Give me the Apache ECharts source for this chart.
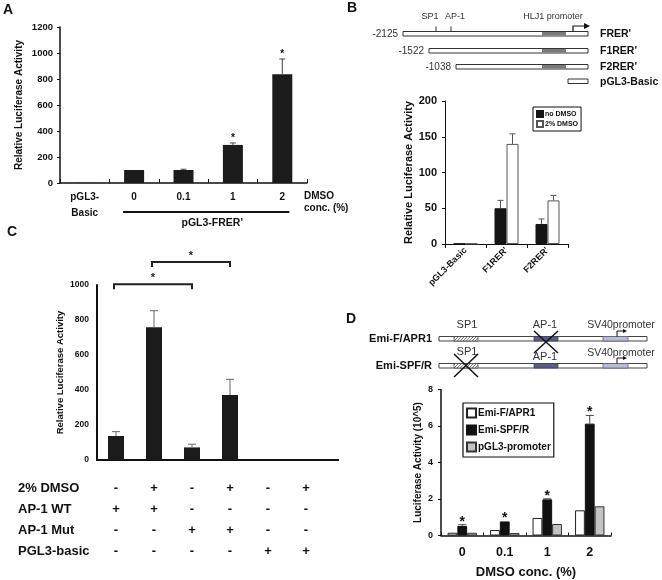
<!DOCTYPE html>
<html><head><meta charset="utf-8">
<script src="https://cdn.jsdelivr.net/npm/echarts@6/dist/echarts.min.js"></script>
<style>html,body{margin:0;padding:0;background:#fff}#c{width:662px;height:580px}</style>
</head><body><div id="c"></div>
<script>
// ---------- Panel A ----------
const aCategories = ['pGL3-\nBasic', '0', '0.1', '1', '2'];
const aValues = [1, 100, 100, 293, 836];
const aErrors = [0, 0, 6, 15, 118];
const aStars = [0, 0, 0, 1, 1];
const aYTicks = {min: 0, max: 1200, interval: 200};

// ---------- Panel B ----------
const bCategories = ['pGL3-Basic', "F1RER'", "F2RER'"];
const bNoDmso = [0.6, 50, 28];
const bNoDmsoErr = [0, 11, 7];
const bDmso = [0.6, 140, 61];
const bDmsoErr = [0, 14, 7];
const bConstructNames = ["FRER'", "F1RER'", "F2RER'", 'pGL3-Basic'];
const bConstructStarts = ['-2125', '-1522', '-1038', ''];

// ---------- Panel C ----------
const cValues = [137, 758, 72, 371, 1, 1];
const cErrors = [25, 95, 18, 90, 0, 0];
const cRowLabels = ['2% DMSO', 'AP-1 WT', 'AP-1 Mut', 'PGL3-basic'];
const cDmso = ['-', '+', '-', '+', '-', '+'];
const cWT = ['+', '+', '-', '-', '-', '-'];
const cMut = ['-', '-', '+', '+', '-', '-'];
const cBasic = ['-', '-', '-', '-', '+', '+'];
const cBracketFrom = [0, 1];
const cBracketTo = [2, 3];
const cBracketLevel = [1005, 1131];

// ---------- Panel D ----------
const dCategories = ['0', '0.1', '1', '2'];
const dEmiF = [0.15, 0.3, 0.96, 1.38];
const dEmiSPF = [0.52, 0.77, 1.98, 6.13];
const dEmiSPFErr = [0.07, 0, 0.03, 0.45];
const dPromoter = [0.15, 0.14, 0.63, 1.6];
const dStars = [1, 1, 1, 1];
const dRowNames = ['Emi-F/APR1', 'Emi-SPF/R'];

const FONT = "'Liberation Sans', Arial, Helvetica, sans-serif";
const INK = '#111';

const chart = echarts.init(document.getElementById('c'), null, {renderer: 'canvas'});

function errSeries(idx, vals, errs, stars, opt) {
  return {
    type: 'custom', xAxisIndex: idx, yAxisIndex: idx, z: 5, silent: true, clip: false,
    data: vals.map((v, i) => [i, v, errs[i], stars ? stars[i] : 0]),
    encode: {x: 0, y: 1},
    renderItem: function (params, api) {
      const i = api.value(0), v = api.value(1), e = api.value(2), s = api.value(3);
      const p0 = api.coord([i, v]);
      const p1 = api.coord([i, v + e]);
      const x = p0[0] + opt.offset;
      const ch = [];
      if (e > 0) {
        ch.push({type: 'line', shape: {x1: x, y1: p0[1], x2: x, y2: p1[1]}, style: {stroke: opt.color, lineWidth: 1}});
        ch.push({type: 'line', shape: {x1: x - opt.cap, y1: p1[1], x2: x + opt.cap, y2: p1[1]}, style: {stroke: opt.color, lineWidth: 1}});
      }
      if (s) {
        ch.push({type: 'text', x: x, y: p1[1] - opt.starGap,
          style: {text: '*', fill: INK, font: opt.starFont, align: 'center', verticalAlign: 'middle'}});
      }
      return {type: 'group', children: ch};
    }
  };
}

const plain = (v) => String(v);
const axisLbl = (size, extra) => Object.assign({fontFamily: FONT, fontWeight: 'bold', fontSize: size, color: INK}, extra || {});

const option = {
  animation: false,
  backgroundColor: '#fff',
  textStyle: {fontFamily: FONT},
  grid: [
    {left: 60, top: 27, width: 247, height: 156},
    {left: 445, top: 101, width: 123, height: 143},
    {left: 97, top: 285, width: 228, height: 175},
    {left: 441, top: 389.5, width: 170, height: 146}
  ],
  xAxis: [
    {gridIndex: 0, type: 'category', data: aCategories,
      axisLine: {lineStyle: {color: INK, width: 1.5}},
      axisTick: {show: true, inside: true, length: 4, lineStyle: {color: INK}},
      axisLabel: axisLbl(10, {margin: 6, lineHeight: 16, interval: 0})},
    {gridIndex: 1, type: 'category', data: bCategories,
      axisLine: {lineStyle: {color: INK, width: 1}},
      axisTick: {show: true, length: 4, lineStyle: {color: INK}},
      axisLabel: axisLbl(9, {rotate: 45, margin: 5, interval: 0})},
    {gridIndex: 2, type: 'category',
      data: cDmso.map((d, i) => [d, cWT[i], cMut[i], cBasic[i]].join('\n')),
      axisLine: {lineStyle: {color: INK, width: 2}},
      axisTick: {show: false},
      axisLabel: axisLbl(13, {margin: 18, lineHeight: 21, interval: 0})},
    {gridIndex: 3, type: 'category', data: dCategories,
      axisLine: {lineStyle: {color: INK, width: 1.5}},
      axisTick: {show: true, inside: true, length: 3, lineStyle: {color: INK}},
      axisLabel: axisLbl(12.5, {margin: 11, interval: 0}),
      name: 'DMSO conc. (%)', nameLocation: 'middle', nameGap: 30,
      nameTextStyle: {fontFamily: FONT, fontWeight: 'bold', fontSize: 13, color: INK}}
  ],
  yAxis: [
    {gridIndex: 0, type: 'value', min: aYTicks.min, max: aYTicks.max, interval: aYTicks.interval,
      splitLine: {show: false},
      axisLine: {show: true, lineStyle: {color: INK, width: 1.5}},
      axisTick: {show: true, length: 3, lineStyle: {color: INK}},
      axisLabel: axisLbl(9.5, {margin: 7, formatter: plain}),
      name: 'Relative Luciferase Activity', nameLocation: 'middle', nameGap: 36,
      nameTextStyle: {fontFamily: FONT, fontWeight: 'bold', fontSize: 10, color: INK}},
    {gridIndex: 1, type: 'value', min: 0, max: 200, interval: 50,
      splitLine: {show: false},
      axisLine: {show: true, lineStyle: {color: INK, width: 1}},
      axisTick: {show: true, length: 3, lineStyle: {color: INK}},
      axisLabel: axisLbl(11, {margin: 8, formatter: plain}),
      name: 'Relative Luciferase Activity', nameLocation: 'middle', nameGap: 31,
      nameTextStyle: {fontFamily: FONT, fontWeight: 'bold', fontSize: 11, color: INK}},
    {gridIndex: 2, type: 'value', min: 0, max: 1000, interval: 200,
      splitLine: {show: false},
      axisLine: {show: true, lineStyle: {color: INK, width: 2}},
      axisTick: {show: false},
      axisLabel: axisLbl(8.5, {margin: 8, formatter: plain}),
      name: 'Relative Luciferase Activity', nameLocation: 'middle', nameGap: 32,
      nameTextStyle: {fontFamily: FONT, fontWeight: 'bold', fontSize: 9.5, color: INK}},
    {gridIndex: 3, type: 'value', min: 0, max: 8, interval: 2,
      splitLine: {show: false},
      axisLine: {show: true, lineStyle: {color: INK, width: 1.5}},
      axisTick: {show: true, length: 3, lineStyle: {color: INK}},
      axisLabel: axisLbl(9, {margin: 8, formatter: plain}),
      name: 'Luciferase Activity (10^5)', nameLocation: 'middle', nameGap: 18,
      nameTextStyle: {fontFamily: FONT, fontWeight: 'bold', fontSize: 10, color: INK}}
  ],
  legend: [
    {data: ['no DMSO', '2% DMSO'], left: 533, top: 107, orient: 'vertical', icon: 'rect',
      itemWidth: 6, itemHeight: 6, itemGap: 2, padding: [3, 3, 3, 3],
      borderColor: INK, borderWidth: 1, selectedMode: false,
      textStyle: {fontFamily: FONT, fontSize: 7, fontWeight: 'bold', color: INK, padding: [0, 0, 0, -3]}},
    {data: ['Emi-F/APR1', 'Emi-SPF/R', 'pGL3-promoter'], left: 463, top: 403, orient: 'vertical', icon: 'rect',
      itemWidth: 9, itemHeight: 9, itemGap: 5, padding: [4, 3, 4, 3],
      borderColor: INK, borderWidth: 1.2, selectedMode: false,
      textStyle: {fontFamily: FONT, fontSize: 10, fontWeight: 'bold', color: INK, lineHeight: 12, padding: [0, 0, 0, -3]}}
  ],
  series: [
    {name: 'A', type: 'bar', xAxisIndex: 0, yAxisIndex: 0, data: aValues, barWidth: 20,
      itemStyle: {color: '#1b1b1b'}},
    errSeries(0, aValues, aErrors, aStars, {offset: 0, cap: 3, color: '#444', starGap: 5, starFont: 'bold 10px ' + FONT}),

    {name: 'no DMSO', type: 'bar', xAxisIndex: 1, yAxisIndex: 1, data: bNoDmso, barWidth: 12, barGap: '0%',
      itemStyle: {color: '#151515', borderColor: '#151515', borderWidth: 1}},
    {name: '2% DMSO', type: 'bar', xAxisIndex: 1, yAxisIndex: 1, data: bDmso, barWidth: 12, barGap: '0%',
      itemStyle: {color: '#fff', borderColor: '#555', borderWidth: 1}},
    errSeries(1, bNoDmso, bNoDmsoErr, null, {offset: -6, cap: 3, color: '#555', starGap: 5, starFont: 'bold 10px ' + FONT}),
    errSeries(1, bDmso, bDmsoErr, null, {offset: 6, cap: 3, color: '#555', starGap: 5, starFont: 'bold 10px ' + FONT}),

    {name: 'C', type: 'bar', xAxisIndex: 2, yAxisIndex: 2, data: cValues, barWidth: 16,
      itemStyle: {color: '#1b1b1b'}},
    errSeries(2, cValues, cErrors, null, {offset: 0, cap: 4, color: '#666', starGap: 5, starFont: 'bold 10px ' + FONT}),
    {type: 'custom', xAxisIndex: 2, yAxisIndex: 2, z: 6, silent: true, clip: false,
      data: cBracketFrom.map((f, i) => [f, cBracketTo[i], cBracketLevel[i]]),
      encode: {x: [0, 1], y: 2},
      renderItem: function (params, api) {
        const a = api.coord([api.value(0), api.value(2)]);
        const b = api.coord([api.value(1), api.value(2)]);
        const x0 = a[0] - 2, x1 = b[0], y = a[1];
        return {type: 'group', children: [
          {type: 'polyline', shape: {points: [[x0, y + 5], [x0, y], [x1, y], [x1, y + 5]]},
            style: {stroke: '#222', lineWidth: 2, fill: null}},
          {type: 'text', x: (x0 + x1) / 2, y: y - 6,
            style: {text: '*', fill: '#222', font: 'bold 11px ' + FONT, align: 'center', verticalAlign: 'middle'}}
        ]};
      }},

    {name: 'Emi-F/APR1', type: 'bar', xAxisIndex: 3, yAxisIndex: 3, data: dEmiF, barWidth: 9.8, barGap: '0%',
      itemStyle: {color: '#fff', borderColor: '#222', borderWidth: 1}},
    {name: 'Emi-SPF/R', type: 'bar', xAxisIndex: 3, yAxisIndex: 3, data: dEmiSPF, barWidth: 9.8, barGap: '0%',
      itemStyle: {color: '#111', borderColor: '#111', borderWidth: 1}},
    {name: 'pGL3-promoter', type: 'bar', xAxisIndex: 3, yAxisIndex: 3, data: dPromoter, barWidth: 9.8, barGap: '0%',
      itemStyle: {color: '#c4c4c4', borderColor: '#333', borderWidth: 1}},
    errSeries(3, dEmiSPF, dEmiSPFErr, dStars, {offset: 0, cap: 4, color: '#444', starGap: 3, starFont: 'bold 14px ' + FONT})
  ]
};
chart.setOption(option);

// ---------- annotations / schematics ----------
function pattern() {
  const c = document.createElement('canvas');
  c.width = 3; c.height = 3;
  const g = c.getContext('2d');
  g.fillStyle = '#fff'; g.fillRect(0, 0, 3, 3);
  g.strokeStyle = '#555'; g.lineWidth = 0.8;
  g.beginPath(); g.moveTo(0, 3); g.lineTo(3, 0); g.stroke();
  return {image: c, repeat: 'repeat'};
}
const hatch = pattern();
const G = [];
const txt = (x, y, t, font, align, fill, va) => G.push({type: 'text', x: x, y: y, silent: true,
  style: {text: t, font: font, align: align || 'left', verticalAlign: va || 'middle', fill: fill || INK}});
const rect = (x, y, w, h, fill, stroke, lw) => G.push({type: 'rect', silent: true, shape: {x: x, y: y, width: w, height: h},
  style: {fill: fill, stroke: stroke || null, lineWidth: lw || 0}});
const line = (x1, y1, x2, y2, stroke, lw) => G.push({type: 'line', silent: true, shape: {x1: x1, y1: y1, x2: x2, y2: y2},
  style: {stroke: stroke || INK, lineWidth: lw || 1}});
const poly = (pts, fill) => G.push({type: 'polygon', silent: true, shape: {points: pts}, style: {fill: fill}});
const pline = (pts, stroke, lw) => G.push({type: 'polyline', silent: true, shape: {points: pts}, style: {stroke: stroke, lineWidth: lw, fill: null}});

// panel letters
txt(3, 10.5, 'A', 'bold 14px ' + FONT);
txt(347, 8, 'B', 'bold 14px ' + FONT);
txt(7, 232, 'C', 'bold 14px ' + FONT);
txt(346, 319, 'D', 'bold 14px ' + FONT);

// Panel A group line & labels
const pA = (i) => chart.convertToPixel({xAxisIndex: 0, yAxisIndex: 0}, [i, 0]);
const a1 = pA(1), a4 = pA(4);
line(a1[0] - 11, a1[1] + 29, a4[0] + 7, a1[1] + 29, INK, 2);
txt((a1[0] + a4[0]) / 2 + 4, a1[1] + 40, "pGL3-FRER'", 'bold 10.5px ' + FONT, 'center');
txt(304, 196, 'DMSO', 'bold 10px ' + FONT);
txt(304, 208, 'conc. (%)', 'bold 10px ' + FONT);

// Panel B schematic
const bRows = [
  {x0: 403, y: 31.5, ly: 34},
  {x0: 429, y: 48.5, ly: 51},
  {x0: 456, y: 64.5, ly: 67},
  {x0: 568, y: 79, ly: 82}
];
const bEnd = 588;
bRows.forEach((r, i) => {
  rect(r.x0, r.y, bEnd - r.x0, 4.5, '#fff', '#333', 1);
  if (i < 3) rect(542, r.y + 0.5, 24, 3.5, '#7a7a7a');
  if (bConstructStarts[i]) txt(r.x0 - 5, r.y + 2.5, bConstructStarts[i], '10px ' + FONT, 'right', '#333');
  txt(600, r.ly, bConstructNames[i], 'bold 10.5px ' + FONT);
});
line(436, 26.5, 436, 31.5, '#333', 1);
line(451, 26.5, 451, 31.5, '#333', 1);
txt(430, 17, 'SP1', '9px ' + FONT, 'center', '#333');
txt(455, 17, 'AP-1', '9px ' + FONT, 'center', '#333');
txt(553, 17, 'HLJ1 promoter', '9px ' + FONT, 'center', '#333');
pline([[573, 31.5], [573, 26], [584, 26]], INK, 1.2);
poly([[584, 23], [590, 26], [584, 29]], INK);

// Panel C row labels and axis extension
const cAxis = chart.convertToPixel({xAxisIndex: 2, yAxisIndex: 2}, [5, 0]);
line(325, cAxis[1], 339, cAxis[1], INK, 2);
cRowLabels.forEach((t, k) => txt(18, cAxis[1] + 18 + 10.5 + 21 * k, t, 'bold 13px ' + FONT));

// Panel D schematic
const dRows = [{y: 336.5, ly: 339}, {y: 363.5, ly: 366}];
dRows.forEach((r, i) => {
  rect(439, r.y, 208, 4.5, '#fff', '#444', 1);
  rect(454, r.y, 24, 4.5, hatch, '#444', 0.8);
  rect(534, r.y, 24, 4.5, '#5a5a90', '#444', 0.8);
  rect(603, r.y, 25, 4.5, '#b6bddc', '#666', 0.8);
  pline([[617, r.y], [617, r.y - 5.5], [623, r.y - 5.5]], INK, 1);
  poly([[623, r.y - 7.5], [627, r.y - 5.5], [623, r.y - 3.5]], INK);
  txt(432, r.ly, dRowNames[i], 'bold 11px ' + FONT, 'right');
});
txt(467, 325, 'SP1', '11px ' + FONT, 'center', '#333');
txt(545, 325, 'AP-1', '11px ' + FONT, 'center', '#333');
txt(621, 325, 'SV40promoter', '10.5px ' + FONT, 'center', '#333');
txt(467, 352, 'SP1', '11px ' + FONT, 'center', '#333');
txt(545, 357, 'AP-1', '11px ' + FONT, 'center', '#333');
txt(621, 353, 'SV40promoter', '10.5px ' + FONT, 'center', '#333');
// crosses
line(534, 331, 558, 353, INK, 1.5); line(558, 331, 534, 353, INK, 1.5);
line(454, 354, 478, 377, INK, 1.5); line(478, 354, 454, 377, INK, 1.5);

chart.setOption({graphic: G});
</script></body></html>
